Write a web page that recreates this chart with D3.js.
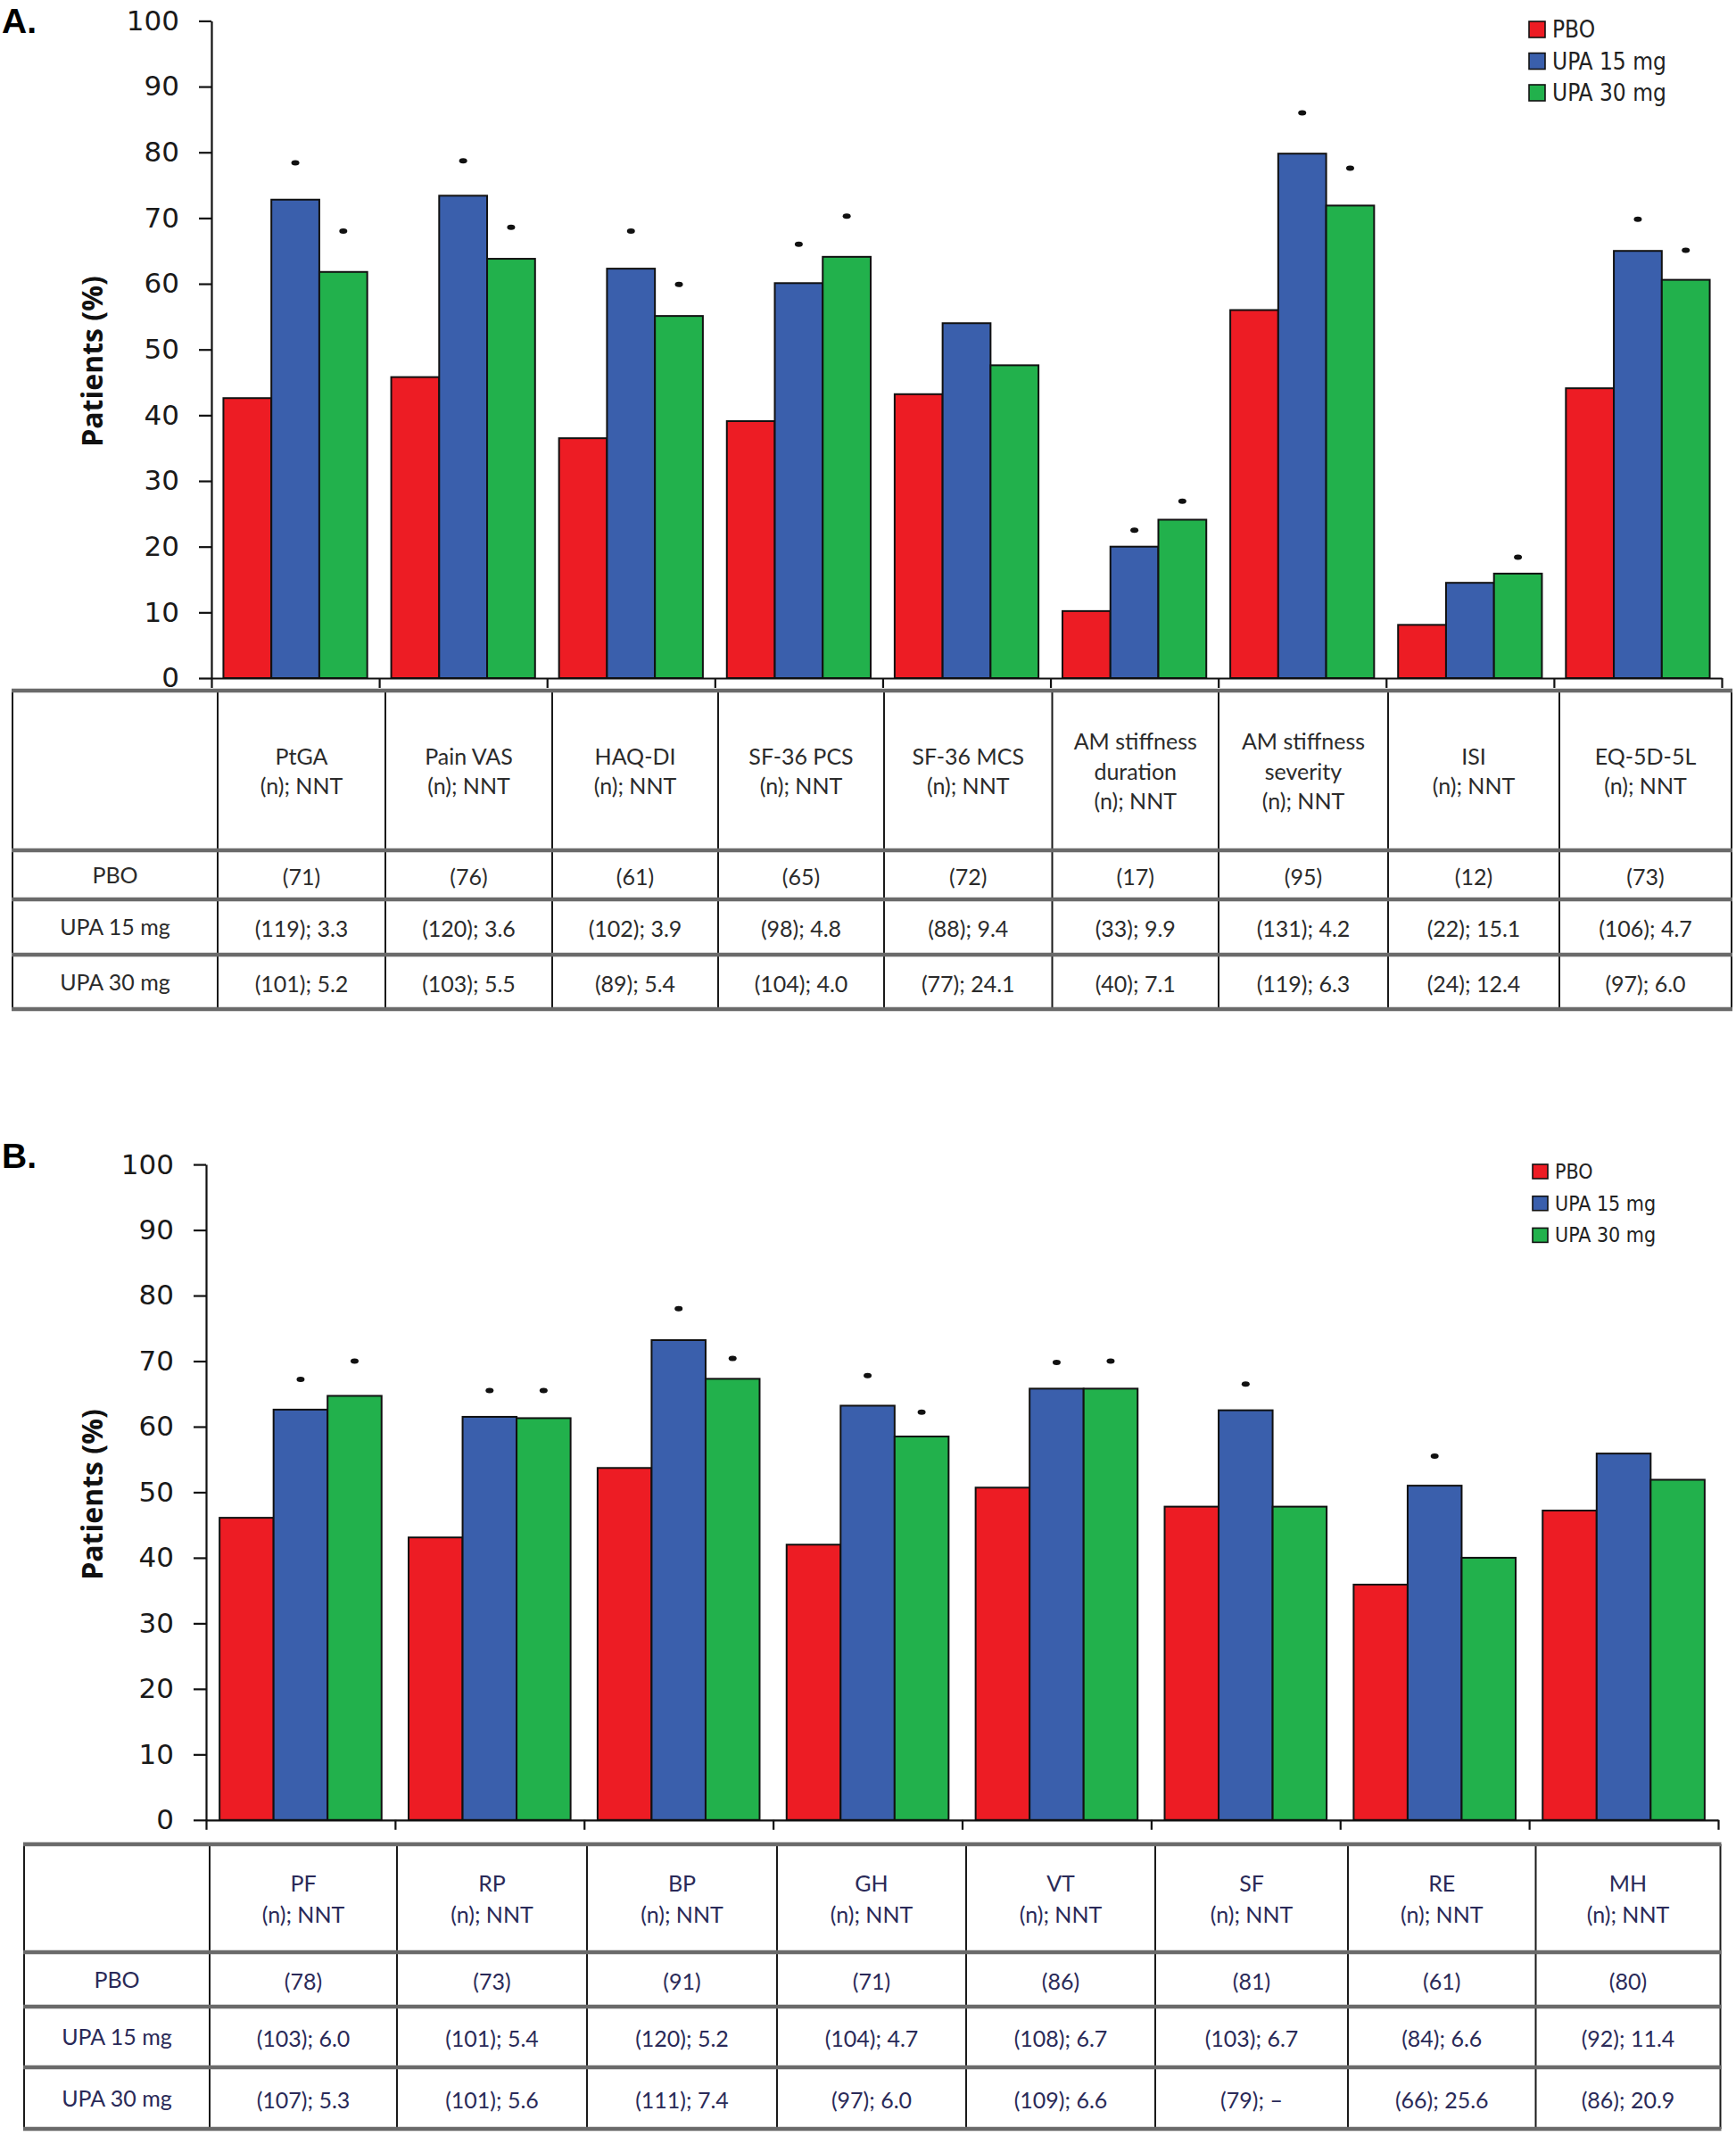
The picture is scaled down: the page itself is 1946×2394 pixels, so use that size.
<!DOCTYPE html>
<html>
<head>
<meta charset="utf-8">
<script src="https://cdn.jsdelivr.net/npm/d3@7"></script>
<style>
  html, body { margin: 0; padding: 0; background: #fff; }
  svg { display: block; }
</style>
</head>
<body>
<svg id="chart" width="1946" height="2394"></svg>
<script>
// ---------- DATA ----------
const seriesNames = ["PBO", "UPA 15 mg", "UPA 30 mg"];
const seriesColors = ["#ed1c24", "#3a5fac", "#22b14c"];
const yTicks = [0, 10, 20, 30, 40, 50, 60, 70, 80, 90, 100];
const rowLabels = ["PBO", "UPA 15 mg", "UPA 30 mg"];

// Panel A
const categoriesA = ["PtGA", "Pain VAS", "HAQ-DI", "SF-36 PCS", "SF-36 MCS",
  "AM stiffness duration", "AM stiffness severity", "ISI", "EQ-5D-5L"];
const headerA = [["PtGA"], ["Pain VAS"], ["HAQ-DI"], ["SF-36 PCS"], ["SF-36 MCS"],
  ["AM stiffness", "duration"], ["AM stiffness", "severity"], ["ISI"], ["EQ-5D-5L"]];
const pboA   = [42.6, 45.8, 36.5, 39.1, 43.2, 10.2, 56.0, 8.1, 44.1];
const upa15A = [72.8, 73.4, 62.3, 60.1, 54.0, 20.0, 79.8, 14.5, 65.0];
const upa30A = [61.8, 63.8, 55.1, 64.1, 47.6, 24.1, 71.9, 15.9, 60.6];
const star15A = [78.4, 78.7, 68.0, 66.0, null, 22.5, 86.0, null, 69.8];
const star30A = [68.0, 68.6, 59.9, 70.3, null, 26.9, 77.6, 18.4, 65.1];
const tablePboA = ["(71)", "(76)", "(61)", "(65)", "(72)", "(17)", "(95)", "(12)", "(73)"];
const table15A = ["(119); 3.3", "(120); 3.6", "(102); 3.9", "(98); 4.8", "(88); 9.4",
  "(33); 9.9", "(131); 4.2", "(22); 15.1", "(106); 4.7"];
const table30A = ["(101); 5.2", "(103); 5.5", "(89); 5.4", "(104); 4.0", "(77); 24.1",
  "(40); 7.1", "(119); 6.3", "(24); 12.4", "(97); 6.0"];

// Panel B
const categoriesB = ["PF", "RP", "BP", "GH", "VT", "SF", "RE", "MH"];
const headerB = [["PF"], ["RP"], ["BP"], ["GH"], ["VT"], ["SF"], ["RE"], ["MH"]];
const pboB   = [46.1, 43.1, 53.7, 42.0, 50.7, 47.8, 35.9, 47.2];
const upa15B = [62.6, 61.5, 73.2, 63.2, 65.8, 62.5, 51.0, 55.9];
const upa30B = [64.7, 61.3, 67.3, 58.5, 65.8, 47.8, 40.0, 51.9];
const star15B = [67.2, 65.5, 78.0, 67.8, 69.8, 66.5, 55.5, null];
const star30B = [70.0, 65.5, 70.4, 62.2, 70.0, null, null, null];
const tablePboB = ["(78)", "(73)", "(91)", "(71)", "(86)", "(81)", "(61)", "(80)"];
const table15B = ["(103); 6.0", "(101); 5.4", "(120); 5.2", "(104); 4.7", "(108); 6.7",
  "(103); 6.7", "(84); 6.6", "(92); 11.4"];
const table30B = ["(107); 5.3", "(101); 5.6", "(111); 7.4", "(97); 6.0", "(109); 6.6",
  "(79); –", "(66); 25.6", "(86); 20.9"];

// ---------- DRAW ----------
const svg = d3.select("#chart");
svg.append("rect").attr("width", 1946).attr("height", 2394).attr("fill", "#fff");

const tickFont = "'DejaVu Sans', Verdana, sans-serif";
const tableFont = "Lato, 'Open Sans', sans-serif";
const boldFont = "'Open Sans', Arial, sans-serif";

function drawPanel(cfg) {
  const g = svg.append("g");
  const series = [cfg.pbo, cfg.u15, cfg.u30];
  const stars = [null, cfg.s15, cfg.s30];

  // panel letter
  g.append("text").attr("x", cfg.letterX).attr("y", cfg.letterY)
    .attr("font-family", "'Liberation Sans', Arial, sans-serif").attr("font-weight", 700)
    .attr("font-size", 39).attr("fill", "#000").text(cfg.letter);

  const y = d3.scaleLinear().domain([0, 100]).range([cfg.y0, cfg.y100]);
  const x0 = d3.scaleBand().domain(cfg.categories).range([cfg.xStart, cfg.xEnd])
    .paddingInner(0).paddingOuter(0);
  const x1 = d3.scaleBand().domain(seriesNames).range([0, x0.bandwidth()])
    .paddingInner(0).paddingOuter(0.25);
  const xi = d3.scaleLinear().domain([0, cfg.categories.length]).range([cfg.xStart, cfg.xEnd]);

  // bars
  cfg.categories.forEach((c, i) => {
    seriesNames.forEach((s, k) => {
      g.append("rect")
        .attr("x", x0(c) + x1(s))
        .attr("y", y(series[k][i]))
        .attr("width", x1.bandwidth())
        .attr("height", y(0) - y(series[k][i]))
        .attr("fill", seriesColors[k])
        .attr("stroke", "#111").attr("stroke-width", 2);
      if (stars[k] && stars[k][i] != null) {
        g.append("ellipse")
          .attr("cx", x0(c) + x1(s) + x1.bandwidth() / 2)
          .attr("cy", y(stars[k][i]))
          .attr("rx", 4.5).attr("ry", 3)
          .attr("fill", "#111");
      }
    });
  });

  // y axis
  const yAxis = d3.axisLeft(y).tickValues(yTicks).tickSize(14).tickSizeOuter(0).tickPadding(22);
  const ya = g.append("g").attr("transform", `translate(${cfg.xStart},0)`).call(yAxis);
  ya.select(".domain").attr("stroke", "#111").attr("stroke-width", 2.2);
  ya.selectAll(".tick line").attr("stroke", "#111").attr("stroke-width", 2.2);
  ya.selectAll(".tick text").attr("font-family", tickFont).attr("font-size", 31)
    .attr("fill", "#1a1a1a");

  // x axis with category boundary ticks
  const xAxis = d3.axisBottom(xi)
    .tickValues(d3.range(0, cfg.categories.length + 1)).tickFormat("").tickSize(11).tickSizeOuter(0);
  const xa = g.append("g").attr("transform", `translate(0,${cfg.y0})`).call(xAxis);
  xa.select(".domain").attr("stroke", "#111").attr("stroke-width", 2.2);
  xa.selectAll(".tick line").attr("stroke", "#111").attr("stroke-width", 2.2);

  // y title
  g.append("text")
    .attr("transform", `translate(${cfg.titleX},${cfg.titleY}) rotate(-90)`)
    .attr("text-anchor", "middle").attr("dominant-baseline", "central")
    .attr("font-family", boldFont).attr("font-weight", 700).attr("font-size", 32)
    .attr("fill", "#111").text("Patients (%)");

  // legend
  seriesNames.forEach((s, k) => {
    const ly = cfg.legY + k * cfg.legStep;
    g.append("rect").attr("x", cfg.legX).attr("y", ly)
      .attr("width", cfg.legSw).attr("height", cfg.legSh)
      .attr("fill", seriesColors[k]).attr("stroke", "#111").attr("stroke-width", 1.6);
    g.append("text").attr("x", cfg.legX + cfg.legSw + 8).attr("y", ly + cfg.legSh / 2)
      .attr("dominant-baseline", "central")
      .attr("font-family", "'DejaVu Sans Condensed', 'DejaVu Sans', sans-serif")
      .attr("font-stretch", "condensed")
      .attr("font-size", cfg.legFont).attr("fill", "#222").text(s);
  });

  // table
  const t = cfg.table;
  const n = cfg.categories.length;
  const edges = t.colEdges;
  const tg = svg.append("g");
  const vx = [t.left].concat(edges);
  vx.forEach(xv => {
    tg.append("line").attr("x1", xv).attr("x2", xv)
      .attr("y1", t.rows[0]).attr("y2", t.rows[t.rows.length - 1])
      .attr("stroke", "#1a1a1a").attr("stroke-width", 2);
  });
  t.rows.forEach(yv => {
    tg.append("line").attr("x1", t.left - 1).attr("x2", edges[n] + 1)
      .attr("y1", yv).attr("y2", yv)
      .attr("stroke", "#6a6a6a").attr("stroke-width", 4.5);
  });
  const txt = (xv, yv, s) => tg.append("text").attr("x", xv).attr("y", yv)
    .attr("text-anchor", "middle").attr("dominant-baseline", "central")
    .attr("font-family", tableFont).attr("font-size", t.font).attr("fill", t.color).text(s);
  const hc = (t.rows[0] + t.rows[1]) / 2;
  cfg.header.forEach((lines, j) => {
    const all = lines.concat(["(n); NNT"]);
    const cx = (edges[j] + edges[j + 1]) / 2;
    all.forEach((l, m) => {
      txt(cx, hc + (m - (all.length - 1) / 2) * t.lineH, l);
    });
  });
  const rowData = [cfg.tPbo, cfg.t15, cfg.t30];
  rowData.forEach((arr, r) => {
    const cy = (t.rows[r + 1] + t.rows[r + 2]) / 2 + 1;
    txt((t.left + edges[0]) / 2, cy - 2, rowLabels[r]);
    arr.forEach((s, j) => txt((edges[j] + edges[j + 1]) / 2, cy, s));
  });
}

drawPanel({
  letter: "A.", letterX: 2, letterY: 37,
  categories: categoriesA, header: headerA,
  pbo: pboA, u15: upa15A, u30: upa30A, s15: star15A, s30: star30A,
  tPbo: tablePboA, t15: table15A, t30: table30A,
  xStart: 237, xEnd: 1930, y0: 760, y100: 23.4,
  titleX: 102, titleY: 405,
  legX: 1714, legY: 24, legStep: 35.5, legSw: 18, legSh: 18, legFont: 26,
  table: { left: 14, colEdges: [244, 432, 619, 805, 991, 1179.5, 1366, 1556, 1748, 1941],
           rows: [774, 953, 1008, 1070, 1131],
           font: 25, lineH: 33.5, color: "#2b2b2b" }
});

drawPanel({
  letter: "B.", letterX: 2, letterY: 1309,
  categories: categoriesB, header: headerB,
  pbo: pboB, u15: upa15B, u30: upa30B, s15: star15B, s30: star30B,
  tPbo: tablePboB, t15: table15B, t30: table30B,
  xStart: 231, xEnd: 1926, y0: 2039.8, y100: 1305.1,
  titleX: 102, titleY: 1675,
  legX: 1718, legY: 1305, legStep: 35.7, legSw: 17, legSh: 16, legFont: 23,
  table: { left: 27, colEdges: [235, 445, 658, 871, 1083, 1295, 1511, 1721.5, 1928.5],
           rows: [2067, 2188, 2249, 2317, 2386],
           font: 25, lineH: 35, color: "#2a2a58" }
});
</script>
</body>
</html>
